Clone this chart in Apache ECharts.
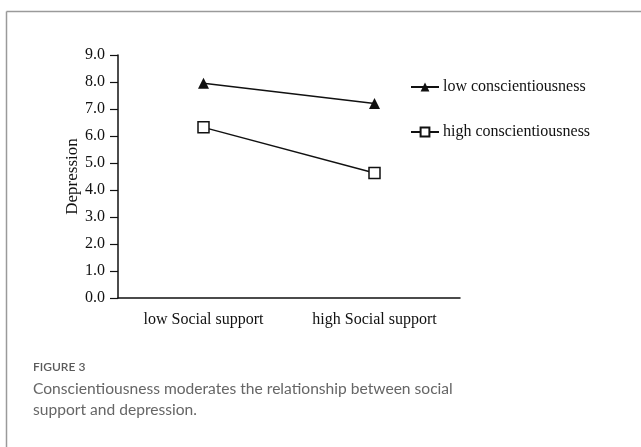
<!DOCTYPE html>
<html><head><meta charset="utf-8">
<script src="https://cdn.jsdelivr.net/npm/echarts@6/dist/echarts.min.js"></script>
<style>html,body{margin:0;padding:0;background:#fff}#c{width:641px;height:447px}</style>
</head><body><div id="c"></div>
<script>
const categories = ['low Social support', 'high Social support'];
const lowConscientiousness = [7.95, 7.2];
const highConscientiousness = [6.32, 4.63];
const seriesNames = ['low conscientiousness', 'high conscientiousness'];
const yTicks = [0, 9, 1]; // min, max, interval
const yAxisName = 'Depression';
const figureLabel = 'FIGURE 3';
const captionLines = ['Conscientiousness moderates the relationship between social', 'support and depression.'];

const serif = '"Liberation Serif", "DejaVu Serif", serif';
const chart = echarts.init(document.getElementById('c'));
chart.setOption({
  animation: false,
  backgroundColor: '#fff',
  grid: { left: 118, top: 55, width: 342, height: 243, containLabel: false },
  xAxis: {
    type: 'category', data: categories, boundaryGap: true,
    axisLine: { lineStyle: { color: '#111', width: 1.5 } },
    axisTick: { show: false },
    axisLabel: { color: '#111', fontFamily: serif, fontSize: 16, margin: 14 }
  },
  yAxis: {
    type: 'value', min: yTicks[0], max: yTicks[1], interval: yTicks[2],
    name: yAxisName, nameLocation: 'middle', nameGap: 37, nameMoveOverlap: false,
    nameTextStyle: { color: '#111', fontFamily: serif, fontSize: 17 },
    splitLine: { show: false },
    axisLine: { show: true, lineStyle: { color: '#111', width: 1.5 } },
    axisTick: { show: true, length: 8, lineStyle: { color: '#111', width: 1.2 } },
    axisLabel: { color: '#111', fontFamily: serif, fontSize: 16, margin: 13, formatter: v => v.toFixed(1) }
  },
  legend: {
    orient: 'vertical', left: 405, top: 74, itemGap: 29,
    itemWidth: 28, itemHeight: 11,
    textStyle: { color: '#111', fontFamily: serif, fontSize: 16, padding: [0, 0, 0, -1] },
    data: seriesNames
  },
  series: [
    { name: seriesNames[0], type: 'line', data: lowConscientiousness,
      symbol: 'triangle', symbolSize: 11,
      lineStyle: { color: '#111', width: 1.5 },
      itemStyle: { color: '#111', borderColor: '#111', borderWidth: 0 } },
    { name: seriesNames[1], type: 'line', data: highConscientiousness,
      symbol: 'rect', symbolSize: 11,
      lineStyle: { color: '#111', width: 1.5 },
      itemStyle: { color: '#fff', borderColor: '#111', borderWidth: 1.5 } }
  ],
  graphic: [
    { type: 'line', shape: { x1: 6.5, y1: 11.5, x2: 641, y2: 11.5 }, style: { stroke: '#9a9a9a', lineWidth: 1.5 } },
    { type: 'line', shape: { x1: 6.5, y1: 11.5, x2: 6.5, y2: 447 }, style: { stroke: '#9a9a9a', lineWidth: 1.5 } },
    { type: 'text', left: 33, top: 361, style: { text: figureLabel, fill: '#5a5a5a', font: '600 12px Lato, sans-serif' } },
    { type: 'text', left: 33, top: 381, style: { text: captionLines[0], fill: '#666', font: '15.6px Lato, sans-serif' } },
    { type: 'text', left: 33, top: 402, style: { text: captionLines[1], fill: '#666', font: '15.6px Lato, sans-serif' } }
  ]
});
</script></body></html>
